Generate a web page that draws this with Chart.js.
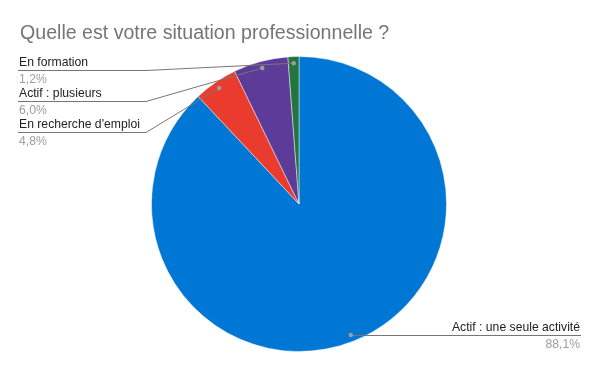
<!DOCTYPE html>
<html>
<head>
<meta charset="utf-8">
<script src="https://cdn.jsdelivr.net/npm/chart.js@4"></script>
<style>
  html, body { margin: 0; padding: 0; background: #fff; }
  #wrap { width: 600px; height: 371px; }
</style>
</head>
<body>
<div id="wrap"><canvas id="situationChart" width="600" height="371"></canvas></div>
<script>
// Data
const chartTitle = "Quelle est votre situation professionnelle ?";
const categories = ["Actif : une seule activité", "En recherche d'emploi", "Actif : plusieurs", "En formation"];
const shares = [88.1, 4.8, 6.0, 1.2];
const shareLabels = ["88,1%", "4,8%", "6,0%", "1,2%"];
const sliceColors = ["#0077d4", "#ea3b2f", "#5c3c98", "#22753f"];

const fontFamily = "'Liberation Sans', Arial, sans-serif";

// ::::: Title + leader line labels (Google Sheets style) :::::
const calloutPlugin = {
    id: "callouts",
    afterDatasetsDraw(chart) {
        const ctx = chart.ctx;
        const arcs = chart.getDatasetMeta(0).data;

        ctx.save();
        ctx.font = "19.6px " + fontFamily;
        ctx.fillStyle = "#757575";
        ctx.textAlign = "left";
        ctx.textBaseline = "alphabetic";
        ctx.fillText(chartTitle, 20, 39);

        let items = arcs.map((arc, i) => {
            const mid = (arc.startAngle + arc.endAngle) / 2;
            const r = arc.outerRadius * 0.955;
            return {
                i: i,
                x: arc.x + Math.cos(mid) * r,
                y: arc.y + Math.sin(mid) * r,
                left: Math.cos(mid) < 0 || (Math.sin(mid) < 0 && Math.cos(mid) < 0.2)
            };
        });

        let leftItems = items.filter(it => it.left).sort((a, b) => a.y - b.y);
        let rightItems = items.filter(it => !it.left);

        ctx.strokeStyle = "#767676";
        ctx.lineWidth = 1;
        ctx.font = "12.2px " + fontFamily;

        leftItems.forEach((it, k) => {
            const lineY = 70 + k * 31;
            ctx.beginPath();
            ctx.moveTo(it.x, it.y);
            ctx.lineTo(146, lineY + 0.5);
            ctx.lineTo(18, lineY + 0.5);
            ctx.stroke();
            ctx.textAlign = "left";
            ctx.fillStyle = "#222222";
            ctx.fillText(categories[it.i], 19, lineY - 4);
            ctx.fillStyle = "#9e9e9e";
            ctx.fillText(shareLabels[it.i], 19, lineY + 13);
        });

        rightItems.forEach(it => {
            const lineY = Math.round(it.y);
            ctx.beginPath();
            ctx.moveTo(it.x, lineY + 0.5);
            ctx.lineTo(581, lineY + 0.5);
            ctx.stroke();
            ctx.textAlign = "right";
            ctx.fillStyle = "#222222";
            ctx.fillText(categories[it.i], 580, lineY - 4);
            ctx.fillStyle = "#9e9e9e";
            ctx.fillText(shareLabels[it.i], 580, lineY + 13);
        });

        // dots on the slices
        items.forEach(it => {
            ctx.beginPath();
            ctx.arc(it.x, it.y, 2.2, 0, Math.PI * 2);
            ctx.fillStyle = "#9e9e9e";
            ctx.fill();
        });
        ctx.restore();
    }
};

var ctx = document.getElementById("situationChart");
var situationChart = new Chart(ctx, {
    type: "pie",
    data: {
        labels: categories,
        datasets: [{
            data: shares,
            backgroundColor: sliceColors,
            borderColor: "rgba(255, 255, 255, 0.45)",
            borderWidth: 1
        }]
    },
    options: {
        responsive: false,
        animation: false,
        layout: {
            padding: { top: 56, bottom: 19, left: 151, right: 153 }
        },
        plugins: {
            legend: { display: false },
            tooltip: { enabled: false }
        }
    },
    plugins: [calloutPlugin]
});
</script>
</body>
</html>
